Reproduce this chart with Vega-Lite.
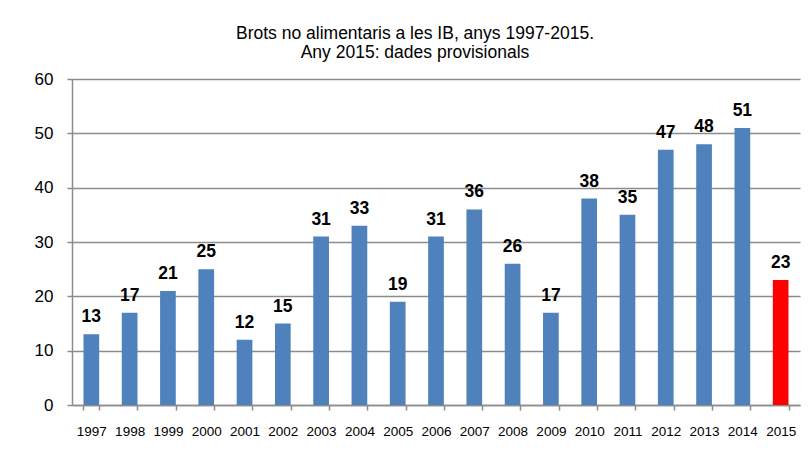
{
  "$schema": "https://vega.github.io/schema/vega-lite/v6.json",
  "width": 728,
  "height": 326,
  "autosize": "none",
  "padding": {"left": 72, "top": 79, "right": 11, "bottom": 47},
  "background": "white",
  "config": {"view": {"stroke": null}, "font": "Liberation Sans"},
  "title": {
    "text": ["Brots no alimentaris a les IB, anys 1997-2015.", "Any 2015: dades provisionals"],
    "font": "Liberation Sans",
    "fontSize": 17.5,
    "fontWeight": "normal",
    "color": "#000000",
    "anchor": "middle",
    "frame": "group",
    "dx": -21,
    "lineHeight": 19,
    "offset": 9
  },
  "data": {
    "values": [
      {"year": "1997", "value": 13, "kind": "final"},
      {"year": "1998", "value": 17, "kind": "final"},
      {"year": "1999", "value": 21, "kind": "final"},
      {"year": "2000", "value": 25, "kind": "final"},
      {"year": "2001", "value": 12, "kind": "final"},
      {"year": "2002", "value": 15, "kind": "final"},
      {"year": "2003", "value": 31, "kind": "final"},
      {"year": "2004", "value": 33, "kind": "final"},
      {"year": "2005", "value": 19, "kind": "final"},
      {"year": "2006", "value": 31, "kind": "final"},
      {"year": "2007", "value": 36, "kind": "final"},
      {"year": "2008", "value": 26, "kind": "final"},
      {"year": "2009", "value": 17, "kind": "final"},
      {"year": "2010", "value": 38, "kind": "final"},
      {"year": "2011", "value": 35, "kind": "final"},
      {"year": "2012", "value": 47, "kind": "final"},
      {"year": "2013", "value": 48, "kind": "final"},
      {"year": "2014", "value": 51, "kind": "final"},
      {"year": "2015", "value": 23, "kind": "provisional"}
    ]
  },
  "encoding": {
    "x": {
      "field": "year",
      "type": "nominal",
      "sort": null,
      "scale": {"paddingInner": 0.59, "paddingOuter": 0.3},
      "axis": {
        "title": null,
        "labelAngle": 0,
        "labelFont": "Liberation Sans",
        "labelFontSize": 13.5,
        "labelColor": "#000000",
        "labelPadding": 14,
        "tickBand": "extent",
        "tickSize": 5,
        "tickColor": "#8c8c8c",
        "tickWidth": 1.5,
        "domainColor": "#8c8c8c",
        "domainWidth": 1.5,
        "grid": false
      }
    },
    "y": {
      "field": "value",
      "type": "quantitative",
      "scale": {"domain": [0, 60], "nice": false},
      "axis": {
        "title": null,
        "values": [0, 10, 20, 30, 40, 50, 60],
        "labelFont": "Liberation Sans",
        "labelFontSize": 17,
        "labelColor": "#000000",
        "labelPadding": 14,
        "tickSize": 5,
        "tickColor": "#8c8c8c",
        "tickWidth": 1.5,
        "domainColor": "#8c8c8c",
        "domainWidth": 1.5,
        "grid": true,
        "gridColor": "#8c8c8c",
        "gridWidth": 1.5
      }
    }
  },
  "layer": [
    {
      "mark": {"type": "bar"},
      "encoding": {
        "color": {
          "field": "kind",
          "type": "nominal",
          "scale": {"domain": ["final", "provisional"], "range": ["#4F81BD", "#FF0000"]},
          "legend": null
        }
      }
    },
    {
      "mark": {"type": "text", "baseline": "bottom", "dy": -8, "fontSize": 17.5, "fontWeight": "bold", "font": "Liberation Sans", "color": "#000000"},
      "encoding": {"text": {"field": "value", "type": "quantitative"}}
    }
  ]
}
